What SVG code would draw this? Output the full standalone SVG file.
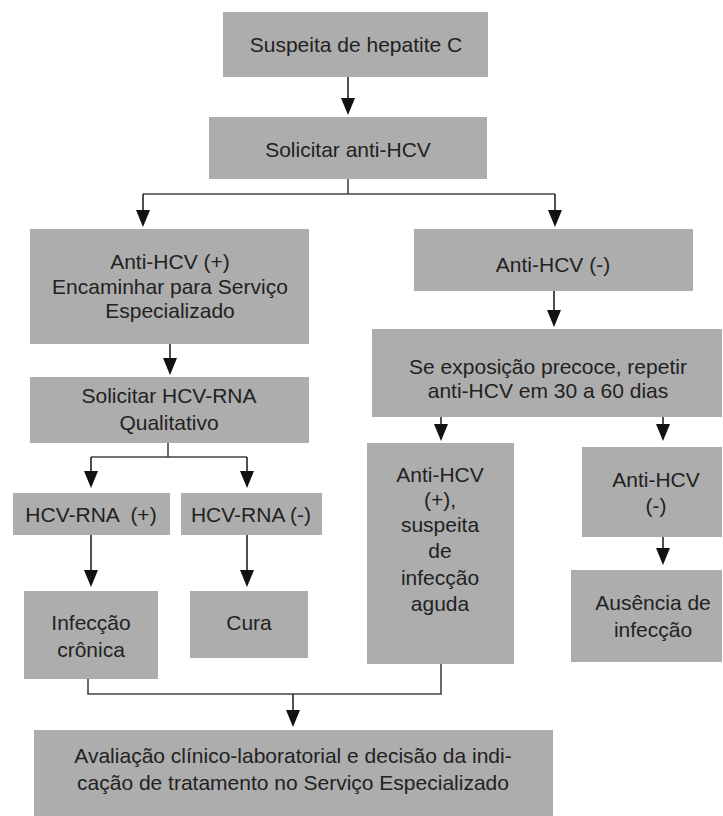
<svg xmlns="http://www.w3.org/2000/svg" width="723" height="816" viewBox="0 0 723 816">
<defs>
<marker id="ah" viewBox="0 0 17 14" refX="13" refY="7" markerWidth="17" markerHeight="14" markerUnits="userSpaceOnUse" orient="auto">
<path d="M0,0 L17,7 L0,14 z" fill="#111"/>
</marker>
<style>
.box{fill:#adadad;}
.t{font-family:"Liberation Sans","Open Sans",Arial,sans-serif;font-size:21px;fill:#222;text-anchor:middle;}
.c{fill:none;stroke:#444;stroke-width:1.6;}
.a{fill:none;stroke:#222;stroke-width:1.6;marker-end:url(#ah);}
</style>
</defs>
<rect width="723" height="816" fill="#fff"/>
<g id="n1"><rect class="box" x="223" y="12" width="265" height="65"/><text class="t" x="356" y="52">Suspeita de hepatite C</text></g>
<g id="n2"><rect class="box" x="209" y="117" width="278" height="62"/><text class="t" x="348" y="157">Solicitar anti-HCV</text></g>
<g id="n3"><rect class="box" x="30" y="229" width="279" height="115"/><text class="t" x="170" y="269">Anti-HCV (+)</text><text class="t" x="170" y="293.5">Encaminhar para Serviço</text><text class="t" x="170" y="318">Especializado</text></g>
<g id="n4"><rect class="box" x="414" y="229" width="279" height="62"/><text class="t" x="553" y="272">Anti-HCV (-)</text></g>
<g id="n5"><rect class="box" x="30" y="377" width="279" height="66"/><text class="t" x="169" y="403">Solicitar HCV-RNA</text><text class="t" x="169" y="430">Qualitativo</text></g>
<g id="n6"><rect class="box" x="372" y="329" width="350" height="88"/><text class="t" x="548" y="373.5">Se exposição precoce, repetir</text><text class="t" x="548" y="398">anti-HCV em 30 a 60 dias</text></g>
<g id="n7"><rect class="box" x="13" y="493" width="157" height="42"/><text class="t" x="91" y="522" xml:space="preserve">HCV-RNA  (+)</text></g>
<g id="n8"><rect class="box" x="181" y="493" width="141" height="42"/><text class="t" x="251" y="522">HCV-RNA (-)</text></g>
<g id="n9"><rect class="box" x="24" y="591" width="134" height="88"/><text class="t" x="91" y="630">Infecção</text><text class="t" x="91" y="657">crônica</text></g>
<g id="n10"><rect class="box" x="190" y="591" width="118" height="67"/><text class="t" x="249" y="630">Cura</text></g>
<g id="n11"><rect class="box" x="367" y="443" width="147" height="221"/><text class="t" x="440" y="482">Anti-HCV</text><text class="t" x="440" y="507">(+),</text><text class="t" x="440" y="532">suspeita</text><text class="t" x="440" y="558">de</text><text class="t" x="440" y="585">infecção</text><text class="t" x="440" y="611">aguda</text></g>
<g id="n12"><rect class="box" x="582" y="447" width="140" height="90"/><text class="t" x="656" y="487">Anti-HCV</text><text class="t" x="656" y="513">(-)</text></g>
<g id="n13"><rect class="box" x="571" y="570" width="151" height="92"/><text class="t" x="653" y="610">Ausência de</text><text class="t" x="653" y="637">infecção</text></g>
<g id="n14"><rect class="box" x="34" y="730" width="519" height="86"/><text class="t" x="293" y="763">Avaliação clínico-laboratorial e decisão da indi-</text><text class="t" x="293" y="790">cação de tratamento no Serviço Especializado</text></g>
<g id="connectors">
<path class="a" d="M348,77 V111"/>
<path class="c" d="M348,179 V194 M143,194 H555"/>
<path class="a" d="M143,194 V223"/>
<path class="a" d="M555,194 V223"/>
<path class="a" d="M170,344 V371"/>
<path class="a" d="M554,291 V323"/>
<path class="c" d="M168,443 V457 M91,457 H247"/>
<path class="a" d="M91,457 V484"/>
<path class="a" d="M247,457 V484"/>
<path class="a" d="M91,535 V583"/>
<path class="a" d="M247,535 V583"/>
<path class="a" d="M441,417 V437"/>
<path class="a" d="M663,417 V437"/>
<path class="a" d="M663,537 V561"/>
<path class="c" d="M88,679 V694 H441 V664"/>
<path class="a" d="M293,694 V723"/>
</g>
</svg>
